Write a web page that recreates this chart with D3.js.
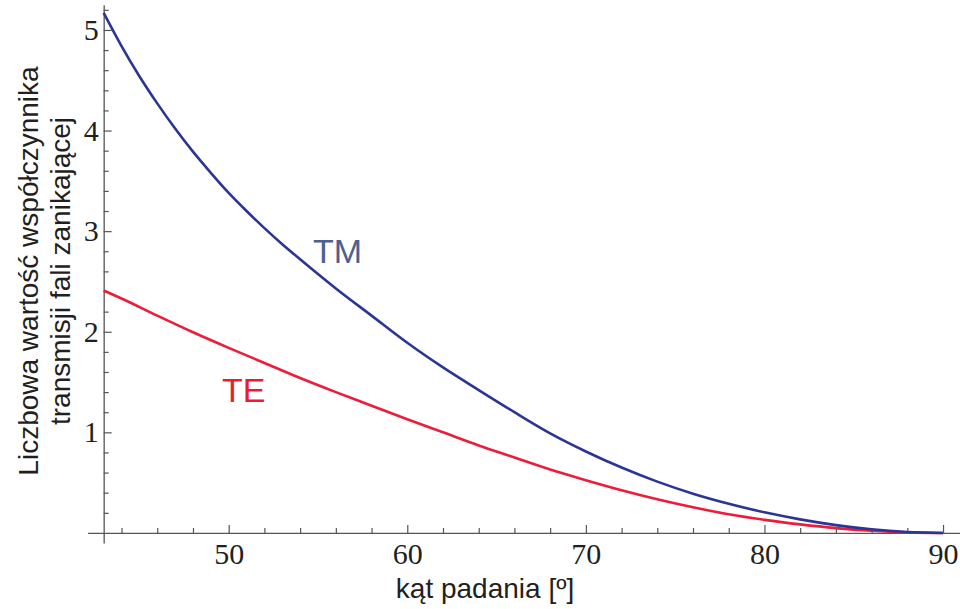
<!DOCTYPE html>
<html>
<head>
<meta charset="utf-8">
<script src="https://cdn.jsdelivr.net/npm/d3@7"></script>
<style>
  body { margin: 0; background: #fff; }
  .os text { font-family: "Liberation Serif", "Times New Roman", Tinos, "DejaVu Serif", serif !important; font-size: 30px; fill: #231f20; }
</style>
</head>
<body>
<svg id="vis" width="960" height="609"></svg>
<script>
// katy padania (stopnie) i odczytane wartosci
const katTM = [43, 44, 45, 46, 47, 48, 49, 50, 51, 52, 53, 54, 56, 58, 60, 62, 64, 66, 68, 70, 72, 74, 76, 78, 80, 82, 84, 86, 88, 90];
const wartTM = [5.17, 4.84, 4.54, 4.27, 4.02, 3.79, 3.58, 3.38, 3.20, 3.03, 2.87, 2.72, 2.43, 2.16, 1.89, 1.645, 1.42, 1.20, 0.99, 0.81, 0.65, 0.51, 0.39, 0.29, 0.205, 0.135, 0.078, 0.036, 0.01, 0];
const katTE = [43, 44, 46, 48, 50, 52, 54, 56, 58, 60, 62, 64, 66, 68, 70, 72, 74, 76, 78, 80, 82, 84, 86, 88, 90];
const wartTE = [2.41, 2.33, 2.16, 1.995, 1.84, 1.69, 1.54, 1.40, 1.265, 1.13, 1.00, 0.87, 0.75, 0.63, 0.525, 0.425, 0.335, 0.255, 0.185, 0.13, 0.085, 0.048, 0.022, 0.006, 0];

const xTicks = [50, 60, 70, 80, 90];
const yTicks = [1, 2, 3, 4, 5];

const SVG = d3.select("#vis");

// skale
const x = d3.scaleLinear().domain([42.1, 91]).range([87.6, 960.9]);
const y = d3.scaleLinear().domain([-0.1, 5.25]).range([543, 4.8]);

const xMinor = d3.range(44, 91, 2).filter(d => d % 10 !== 0);
const yMinor = d3.range(0.2, 5.3, 0.2).filter(d => Math.abs(d - Math.round(d)) > 0.01);

const axisColor = "#555";
const serif = "Liberation Serif, Times New Roman, serif";
const sans = "Liberation Sans, Arial, sans-serif";

// os X (ticki do gory)
const gx = SVG.append("g").attr("class", "os").attr("transform", `translate(0,${y(0)})`);
gx.append("g")
  .call(d3.axisBottom(x).tickValues(xMinor).tickSize(-5).tickSizeOuter(0).tickFormat(""))
  .call(g => g.select(".domain").attr("stroke", axisColor).attr("stroke-width", 1.3));
gx.append("g")
  .call(d3.axisBottom(x).tickValues(xTicks).tickSize(-8).tickPadding(10).tickFormat(d3.format("d")))
  .attr("font-family", serif).attr("font-size", 30)
  .call(g => g.select(".domain").remove());

// os Y (ticki w prawo)
const gy = SVG.append("g").attr("class", "os").attr("transform", `translate(${x(43)},0)`);
gy.append("g")
  .call(d3.axisLeft(y).tickValues(yMinor).tickSize(-5).tickSizeOuter(0).tickFormat(""))
  .call(g => g.select(".domain").attr("stroke", axisColor).attr("stroke-width", 1.3));
gy.append("g")
  .call(d3.axisLeft(y).tickValues(yTicks).tickSize(-8).tickPadding(5).tickFormat(d3.format("d")))
  .attr("font-family", serif).attr("font-size", 30)
  .call(g => g.select(".domain").remove());

SVG.selectAll(".tick line").attr("stroke", axisColor).attr("stroke-width", 1.2);

// krzywe
const line = d3.line().x(d => x(d[0])).y(d => y(d[1])).curve(d3.curveMonotoneX);

SVG.append("path")
  .datum(d3.zip(katTE, wartTE))
  .attr("d", line)
  .attr("fill", "none")
  .attr("stroke", "#ec1c3b")
  .attr("stroke-width", 2.6);

SVG.append("path")
  .datum(d3.zip(katTM, wartTM))
  .attr("d", line)
  .attr("fill", "none")
  .attr("stroke", "#2b3593")
  .attr("stroke-width", 2.6);

// etykiety krzywych
SVG.append("text")
  .attr("x", 313).attr("y", 263)
  .style("font-family", sans)
  .style("font-size", "34px")
  .style("fill", "#4b6192")
  .text("TM");

SVG.append("text")
  .attr("x", 222).attr("y", 402)
  .style("font-family", sans)
  .style("font-size", "34px")
  .style("fill", "#ec1c2e")
  .text("TE");

// opisy osi
SVG.append("text")
  .attr("x", 485).attr("y", 598)
  .attr("text-anchor", "middle")
  .style("font-family", sans)
  .style("font-size", "28px")
  .style("fill", "#231f20")
  .text("kąt padania [º]");

const yl = SVG.append("text")
  .attr("transform", "translate(0,271) rotate(-90)")
  .attr("text-anchor", "middle")
  .style("font-family", sans)
  .style("font-size", "28px")
  .style("fill", "#231f20");
yl.append("tspan").attr("x", 0).attr("y", 38).text("Liczbowa wartość współczynnika");
yl.append("tspan").attr("x", 0).attr("y", 70).text("transmisji fali zanikającej");
</script>
</body>
</html>
